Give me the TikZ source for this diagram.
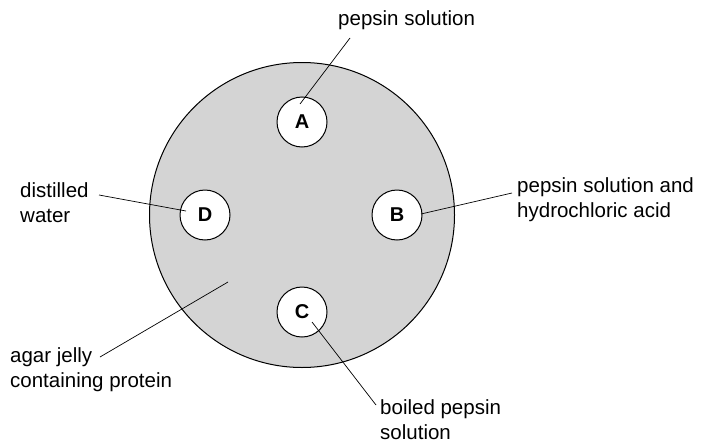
\documentclass[tikz,border=0pt]{standalone}
\usepackage{fontspec}
\setmainfont{Liberation Sans}
\begin{document}
\begin{tikzpicture}[x=1pt,y=-1pt,
  well/.style={circle,draw,line width=1pt,fill=white,minimum size=50pt,inner sep=0pt,font=\fontsize{20}{20}\selectfont\bfseries},
  lbl/.style={font=\fontsize{20.5}{25}\selectfont,align=left,inner sep=0pt},
  ln/.style={line width=0.7pt}]
\useasboundingbox (0,0) rectangle (714,447);
\node[circle,draw,line width=1pt,fill=black!17,minimum size=305pt,inner sep=0pt] (dish) at (302,215) {};
\node[well] (A) at (302,122) {A};
\node[well] (B) at (397,215) {B};
\node[well] (C) at (302,312) {C};
\node[well] (D) at (205,215) {D};
\coordinate (a) at (300,104);
\coordinate (b) at (421,214);
\coordinate (c) at (312,322);
\coordinate (d) at (186,211);
\coordinate (e) at (228,282);
\node[lbl,anchor=west] (tA) at (338,20) {pepsin solution};
\node[lbl,anchor=west] (tB) at (517,200) {pepsin solution and\\hydrochloric acid};
\node[lbl,anchor=west] (tD) at (20,203) {distilled\\water};
\node[lbl,anchor=west] (tC) at (380,420) {boiled pepsin\\solution};
\node[lbl,anchor=west] (tE) at (10,370) {agar jelly\\containing protein};
\coordinate (pA) at (350,38);
\coordinate (pB) at (512,193);
\coordinate (pD) at (99,195);
\coordinate (pC) at (376,405);
\coordinate (pE) at (100,357);
\draw[ln] (pA) -- (a);
\draw[ln] (pB) -- (b);
\draw[ln] (pD) -- (d);
\draw[ln] (pC) -- (c);
\draw[ln] (pE) -- (e);
\end{tikzpicture}
\end{document}
